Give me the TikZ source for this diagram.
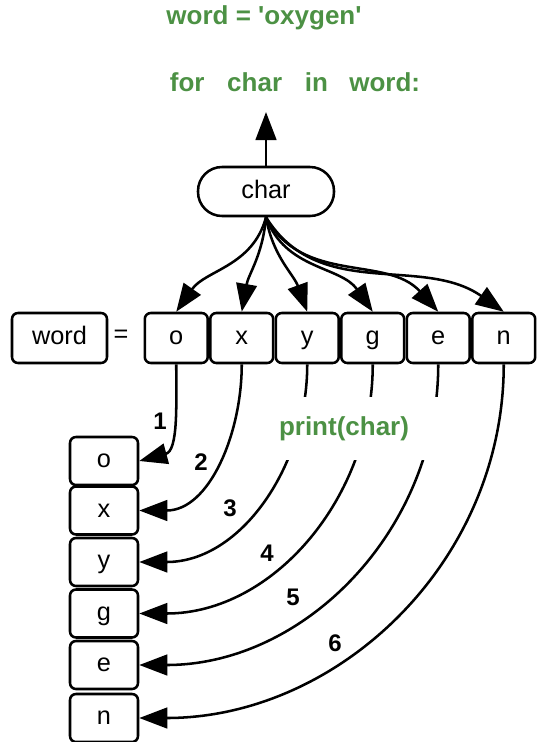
\documentclass[tikz,border=0pt]{standalone}
\usepackage{fontspec}
\setmainfont{Liberation Sans}
\usetikzlibrary{arrows.meta}
\definecolor{codegreen}{RGB}{76,145,68}
\begin{document}
\begin{tikzpicture}[x=0.75pt,y=-0.75pt,
  line width=1.9pt,
  box/.style={draw, rounded corners=4.5pt, minimum height=37.5pt, inner sep=0pt,
    text height=13.5pt, text depth=3.5pt, font=\fontsize{19}{22}\selectfont},
  cell/.style={box, minimum width=47.2pt},
  outbox/.style={box, minimum width=51pt, minimum height=36pt},
  pill/.style={box, minimum width=102pt, minimum height=36.75pt, rounded corners=18pt},
  code/.style={text=codegreen, inner sep=0pt, font=\fontsize{19.5}{23}\selectfont\bfseries},
  num/.style={inner sep=0pt, font=\fontsize{18}{22}\selectfont\bfseries},
  arr/.style={-{Triangle[length=21pt,width=15.5pt]}},
]
\useasboundingbox (0,0) rectangle (537,742);

% code text
\node[code] (title) at (264,18) {word = \textquotesingle oxygen\textquotesingle};
\node[code] (loop) at (295,82) {for\hspace{17pt}char\hspace{17pt}in\hspace{16pt}word:};

% char variable
\node[pill] (char) at (266,191.5) {char};
\coordinate (up) at (266,112);
\draw[arr] (char.north) -- (up);

% word = array
\node[box, minimum width=71.25pt] (word) at (59.5,338) {word};
\node[inner sep=0pt, font=\fontsize{19}{22}\selectfont] (eq) at (121,336) {=};
\node[cell] (a1) at (176.25,338) {o};
\node[cell] (a2) at (241.75,338) {x};
\node[cell] (a3) at (307.25,338) {y};
\node[cell] (a4) at (372.75,338) {g};
\node[cell] (a5) at (438.25,338) {e};
\node[cell] (a6) at (503.75,338) {n};

% char -> each element
\draw[arr] (char.south) to[out=-105,in=55] (a1.north);
\draw[arr] (char.south) to[out=-95,in=80] (a2.north);
\draw[arr] (char.south) to[out=-80,in=110] (a3.north);
\draw[arr] (char.south) to[out=-70,in=125] (a4.north);
\draw[arr] (char.south) to[out=-62,in=132] (a5.north);
\draw[arr] (char.south) to[out=-58,in=145] (a6.north);

% printed output
\node[outbox] (o1) at (104,461) {o};
\node[outbox] (o2) at (104,510.5) {x};
\node[outbox] (o3) at (104,562) {y};
\node[outbox] (o4) at (104,613.5) {g};
\node[outbox] (o5) at (104,665) {e};
\node[outbox] (o6) at (104,718) {n};

\draw[arr] (a1.south) to[out=-90,in=15] (o1.east);
\draw[arr] (a2.south) to[out=-90,in=0] (o2.east);
\draw[arr] (a3.south) to[out=-90,in=0] (o3.east);
\draw[arr] (a4.south) to[out=-90,in=0] (o4.east);
\draw[arr] (a5.south) to[out=-90,in=0] (o5.east);
\draw[arr] (a6.south) to[out=-90,in=0] (o6.east);

% label of the print step
\fill[white] (262,397) rectangle (452,460);
\node[code] (pr) at (344,429) {print(char)};

% step numbers
\node[num] (n1) at (160,421) {1};
\node[num] (n2) at (201,462) {2};
\node[num] (n3) at (230,508) {3};
\node[num] (n4) at (267,553) {4};
\node[num] (n5) at (293,597) {5};
\node[num] (n6) at (335,643) {6};
\end{tikzpicture}
\end{document}
